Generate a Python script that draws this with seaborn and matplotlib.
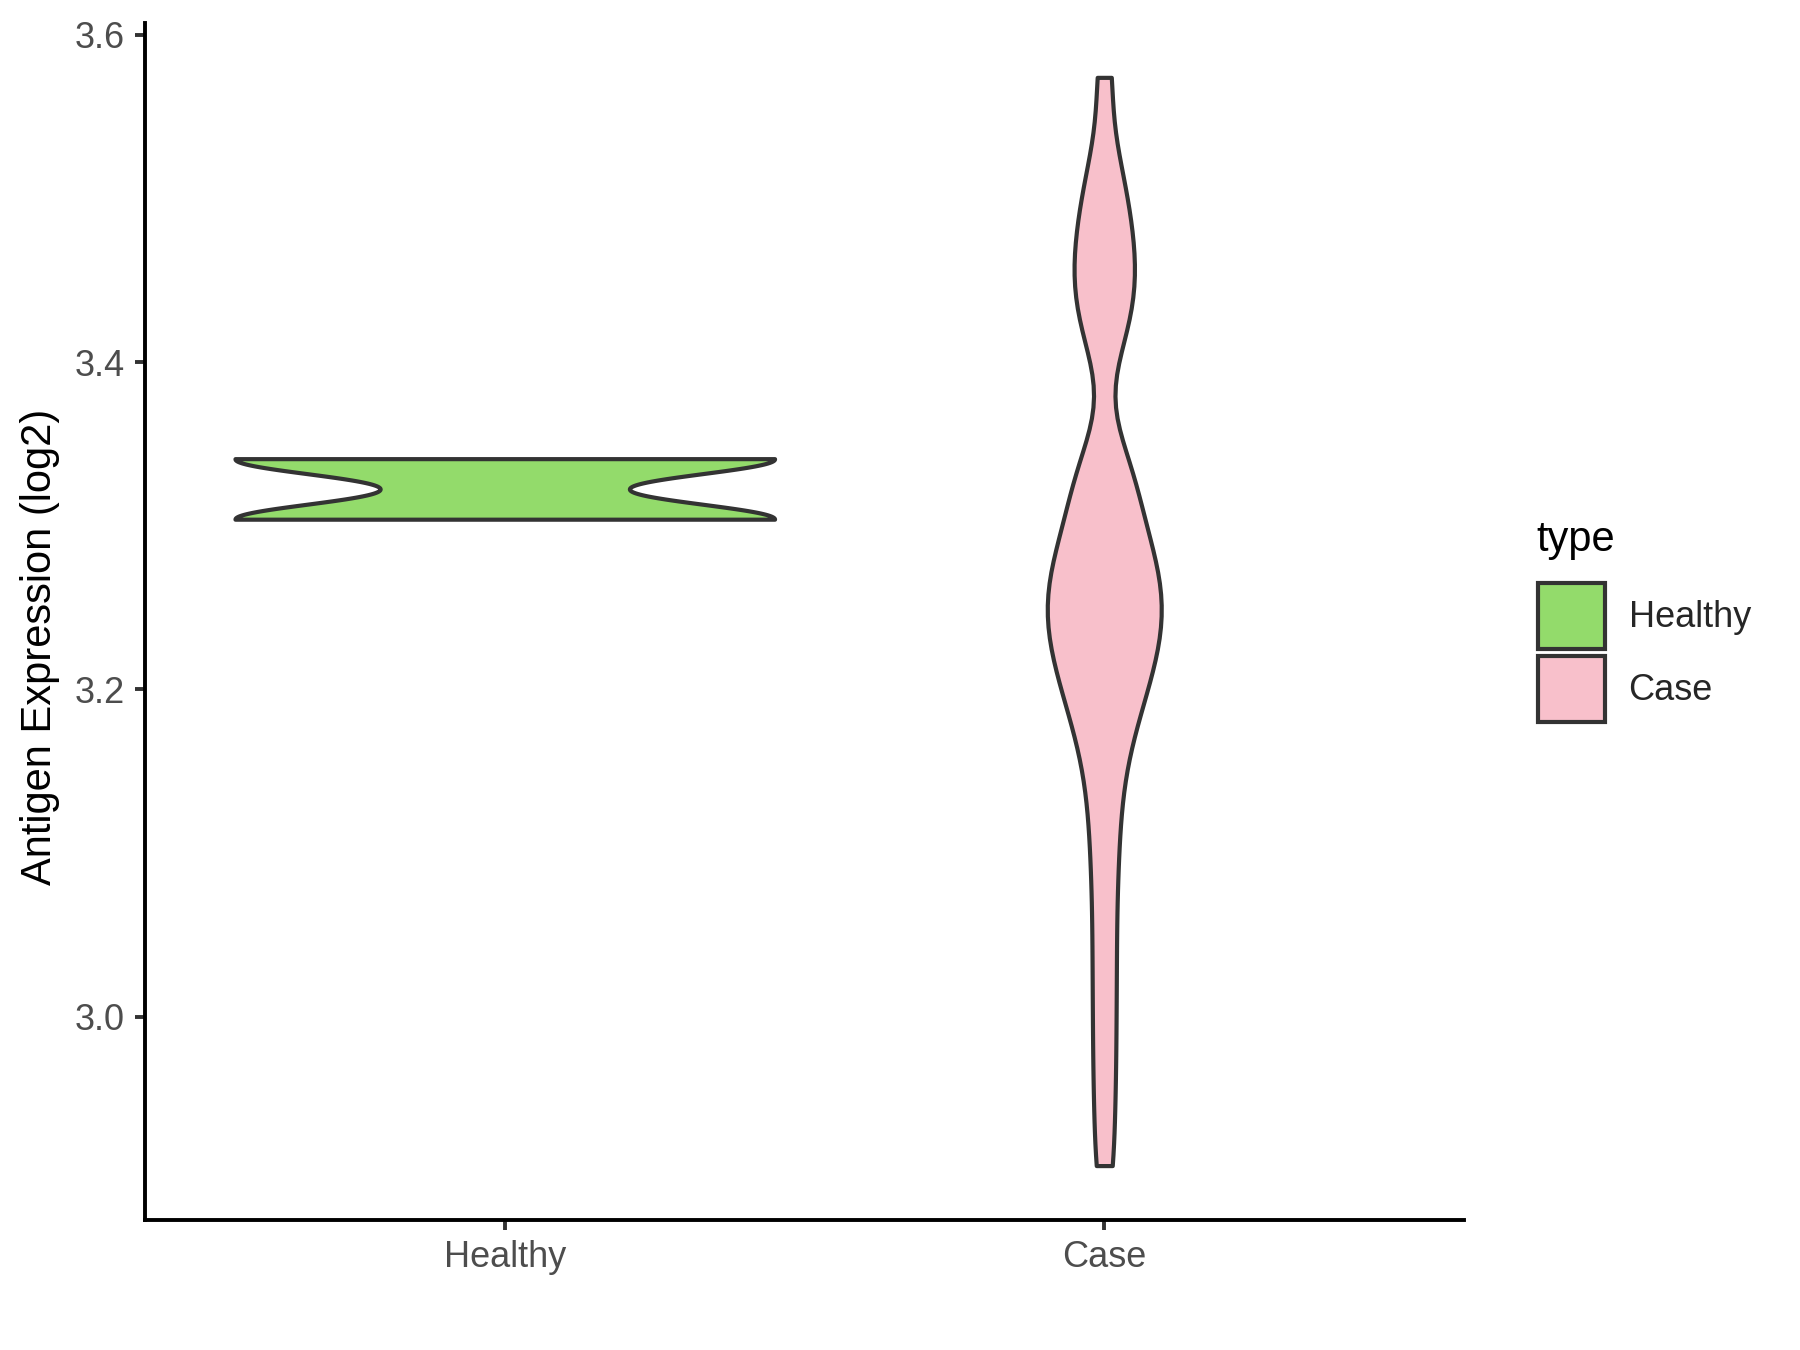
import numpy as np
import pandas as pd
import matplotlib
matplotlib.use("Agg")
import matplotlib.pyplot as plt
from matplotlib.patches import Patch
import seaborn as sns

# categories and colours
groups = ["Healthy", "Case"]
colors = {"Healthy": "#93DB6B", "Case": "#F8C0CB"}

# values (log2 antigen expression)
healthy_vals = [3.304, 3.341]
case_vals = [
    2.909, 2.949, 2.984, 3.018, 3.051, 3.084, 3.112,
    3.138, 3.158, 3.176, 3.187, 3.196, 3.206, 3.214, 3.223, 3.229, 3.235,
    3.242, 3.248, 3.254, 3.261, 3.268, 3.275, 3.282, 3.288, 3.296, 3.313,
    3.325, 3.333, 3.342,
    3.411, 3.425, 3.438, 3.450, 3.461, 3.473, 3.487, 3.505, 3.521, 3.574,
]
yticks = [3.0, 3.2, 3.4, 3.6]


def nrd0(x):
    # R's default bandwidth (bw.nrd0)
    x = np.asarray(x, dtype=float)
    hi = x.std(ddof=1)
    q1, q3 = np.percentile(x, [25, 75])
    lo = min(hi, (q3 - q1) / 1.34)
    return 0.9 * lo * len(x) ** -0.2


df = pd.DataFrame({
    "type": ["Healthy"] * len(healthy_vals) + ["Case"] * len(case_vals),
    "value": healthy_vals + case_vals,
})

sns.set_style("ticks")
plt.rcParams["font.family"] = ["Liberation Sans", "DejaVu Sans"]

fig = plt.figure(figsize=(9, 6.75), dpi=200)
ax = fig.add_axes([0.0806, 0.0963, 0.7327, 0.8867])

widths = {"Healthy": 0.9, "Case": 0.19}
bandwidths = {"Healthy": nrd0(healthy_vals), "Case": 0.028}

for g in groups:
    sub = df[df["type"] == g]
    sns.violinplot(data=sub, x="type", y="value", order=groups,
                   color=colors[g], saturation=1, cut=0, inner=None,
                   width=widths[g], bw_method=bandwidths[g] / sub["value"].std(),
                   linewidth=1.5, linecolor="#333333", ax=ax)

lo, hi = df["value"].min(), df["value"].max()
pad = 0.05 * (hi - lo)
ax.set_ylim(lo - pad, hi + pad)
ax.set_xlim(-0.6, 1.6)
ax.set_yticks(yticks)
ax.set_yticklabels([f"{t:.1f}" for t in yticks])

ax.set_xlabel("")
ax.set_ylabel("Antigen Expression (log2)", fontsize=15, color="black", labelpad=5.3)
ax.yaxis.label.set_y(0.479)

for side in ["top", "right"]:
    ax.spines[side].set_visible(False)
for side in ["left", "bottom"]:
    ax.spines[side].set_linewidth(1.4)
    ax.spines[side].set_color("black")
ax.tick_params(axis="both", colors="#333333", labelcolor="#4D4D4D",
               labelsize=13, length=3.6, width=1.4, pad=3.6)

# legend: title as text, keys below it
fig.text(0.8533, 0.6003, "type", fontsize=15, color="black", ha="left", va="center")
handles = [Patch(facecolor=colors[g], edgecolor="#333333", linewidth=1.5, label=g)
           for g in groups]
fig.legend(handles=handles, loc="upper left",
           bbox_to_anchor=(0.8546, 0.568), frameon=False, fontsize=13,
           handlelength=1.85, handleheight=2.42,
           labelspacing=0.2, handletextpad=0.65, borderpad=0,
           borderaxespad=0)

fig.savefig("out.png", dpi=200)
plt.close(fig)
